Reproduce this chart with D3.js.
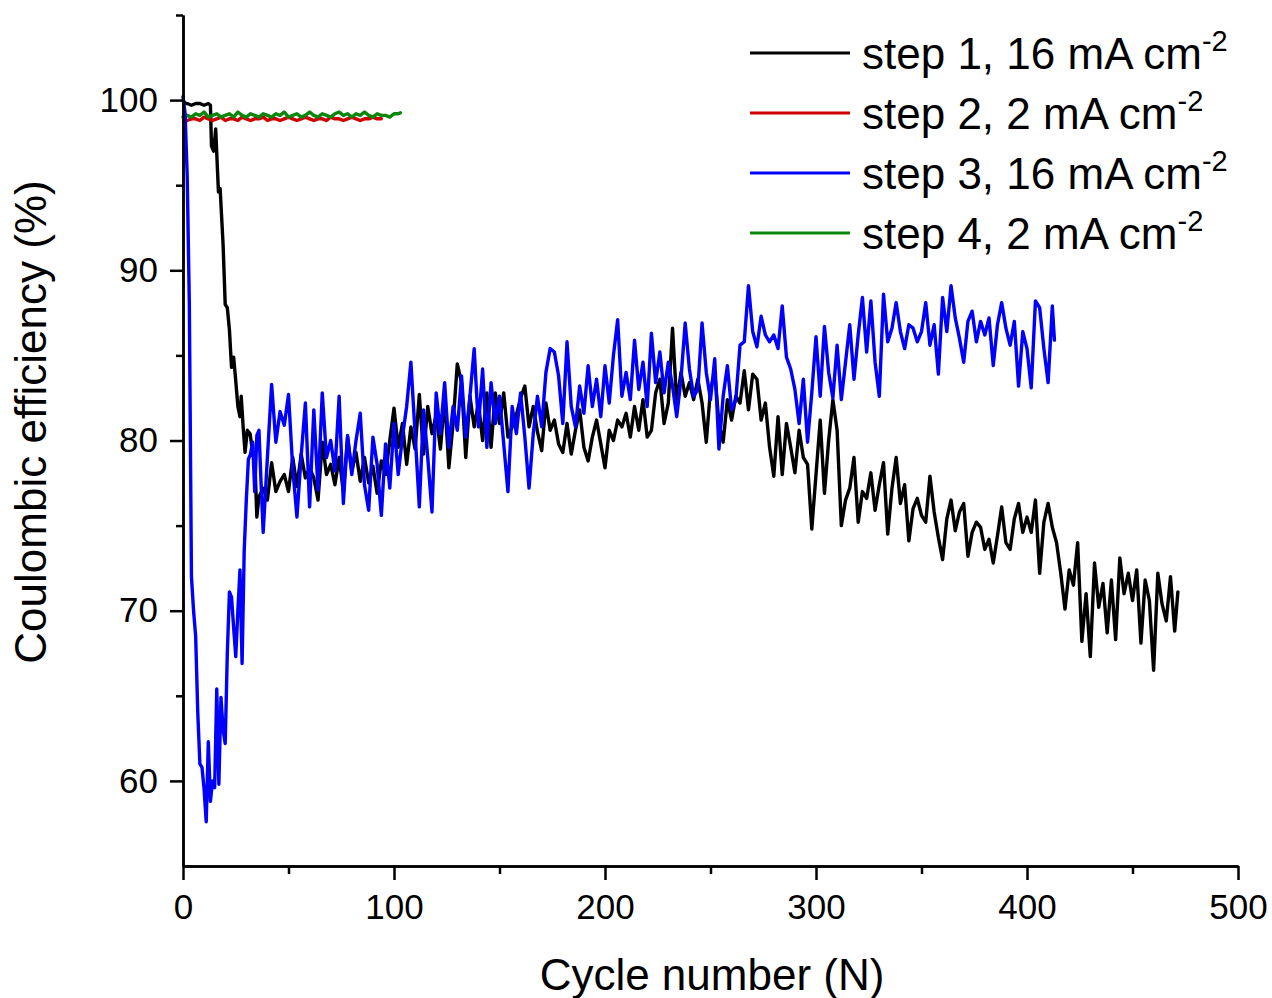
<!DOCTYPE html>
<html>
<head>
<meta charset="utf-8">
<script src="https://cdn.jsdelivr.net/npm/d3@7"></script>
<style>
  html, body { margin: 0; padding: 0; background: #ffffff; }
  svg { display: block; }
  text { font-family: "Liberation Sans", Arial, sans-serif; fill: #000; }
</style>
</head>
<body>
<svg id="chart" width="1272" height="998"></svg>
<script>
// ---- Series: step 1 (16 mA cm-2), black ----
// first cycles, listed as [cycle, CE %]
const step1Head = [
  [0, 100.0], [1, 99.8], [2, 99.8], [4, 99.7], [6, 99.8], [8, 99.8], [10, 99.7], [12, 99.8], [13, 99.7],
  [13.5, 97.3], [14.5, 97.0], [15.5, 98.3], [16.3, 96.0], [16.8, 94.6], [17.6, 94.8], [19, 91.5],
  [20, 88.0], [21, 87.8], [22, 86.5], [23, 84.3], [24, 84.9], [25, 83.5], [26, 82.0], [27, 81.4],
  [27.6, 82.6], [28.5, 80.8], [29.4, 79.3], [30.5, 80.6], [31.8, 80.4], [33, 79.3], [34, 79.0],
  [35, 75.5], [36, 76.7]
];
// every second cycle from 38 to 470
const step1Start = 38;
const step1Values = [
  77.2, 76.5, 78.7, 77.0, 77.6, 78.0, 77.0, 79.0, 77.3, 79.2,   // 38-56
  77.8, 78.4, 77.8, 76.5, 79.9, 78.0, 78.6, 77.4, 79.0, 77.0,   // 58-76
  80.2, 78.2, 79.3, 77.6, 79.0, 77.5, 78.5, 76.9, 78.8, 78.0,   // 78-96
  80.0, 81.9, 79.6, 81.0, 78.6, 80.8, 79.5, 82.7, 79.2, 82.0,   // 98-116
  80.4, 81.5, 79.5, 82.5, 78.4, 81.0, 84.5, 83.4, 79.0, 82.6,   // 118-136
  80.8, 82.2, 80.0, 82.8, 79.6, 82.8, 81.0, 82.8, 80.2, 80.8,   // 138-156
  81.5, 82.5, 83.2, 80.8, 82.0, 80.5, 79.4, 82.2, 80.6, 81.2,   // 158-176
  79.8, 79.3, 81.0, 79.2, 80.6, 81.8, 79.6, 78.8, 80.2, 81.2,   // 178-196
  79.8, 78.4, 80.6, 80.0, 81.2, 80.8, 81.6, 80.2, 82.0, 80.6,   // 198-216
  82.4, 80.2, 80.6, 82.8, 83.6, 81.0, 82.2, 86.6, 82.2, 84.0,   // 218-236
  82.6, 83.4, 82.4, 83.6, 82.2, 79.9, 83.0, 84.0, 81.0, 79.9,   // 238-256
  82.4, 81.2, 82.6, 82.2, 84.1, 81.8, 83.9, 83.6, 81.2, 82.2,   // 258-276
  79.6, 77.9, 81.4, 78.0, 81.0, 79.6, 78.1, 80.6, 79.0, 78.6,   // 278-296
  74.8, 78.0, 81.2, 76.9, 80.0, 82.4, 80.6, 75.0, 76.5, 77.2,   // 298-316
  79.0, 75.2, 77.0, 76.6, 78.1, 75.9, 77.4, 78.7, 74.5, 77.2,   // 318-336
  79.0, 76.3, 77.4, 74.1, 76.0, 76.6, 75.6, 75.2, 77.9, 75.8,   // 338-356
  74.3, 73.0, 75.4, 76.5, 74.7, 75.8, 76.3, 73.2, 74.6, 75.2,   // 358-376
  74.9, 73.6, 74.2, 72.8, 74.4, 76.1, 74.0, 73.6, 75.4, 76.3,   // 378-396
  74.6, 75.5, 74.6, 76.5, 72.2, 75.2, 76.3, 74.9, 74.0, 72.2,   // 398-416
  70.1, 72.4, 71.5, 74.0, 68.2, 71.0, 67.3, 72.8, 70.2, 71.6,   // 418-436
  68.7, 71.8, 68.3, 73.1, 71.0, 72.2, 70.6, 72.4, 68.1, 71.8,   // 438-456
  70.6, 66.5, 72.2, 70.4, 69.4, 72.0, 68.8                      // 458-470
];
const step1Tail = [[471.5, 71.1]];

// ---- Series: step 2 (2 mA cm-2), red — every second cycle from 2 ----
const step2Start = 2;
const step2Values = [
  98.8, 98.9, 98.9, 98.8, 99.0, 98.9, 98.8, 98.9, 99.0, 98.8, 98.9, 98.9, 98.8, 99.0, 98.9, 98.8,
  98.9, 98.9, 99.0, 98.8, 98.9, 98.9, 98.8, 98.9, 99.0, 98.9, 98.8, 98.9, 99.0, 98.9, 98.8, 98.9,
  98.9, 98.8, 99.0, 98.9, 98.9, 98.8, 98.9, 99.0, 98.9, 98.8, 98.9, 98.9, 99.0, 98.9, 98.9
];

// ---- Series: step 3 (16 mA cm-2), blue ----
const step3Head = [
  [0, 100.2], [1, 99.2], [2, 95.5], [3, 88.0], [4, 72.0], [5, 70.0], [6, 68.5], [7, 64.0], [8, 61.0],
  [9, 60.8], [10, 59.5], [11, 57.6], [12, 62.3], [13, 58.8], [14, 60.0], [15, 59.6], [16, 65.4],
  [17, 59.8], [18, 64.9], [19, 63.0], [20, 62.2], [21, 67.5], [22, 71.1], [23, 70.8], [24, 69.0],
  [25, 67.3], [26, 70.0], [27, 72.4], [28, 66.9], [29, 73.5], [30, 76.5], [31, 78.9], [32, 79.2],
  [33, 79.9], [34, 77.0], [35, 80.3], [36, 80.6], [37, 77.5], [38, 74.6]
];
// every second cycle from 40 to 412
const step3Start = 40;
const step3Values = [
  79.0, 83.3, 79.9, 81.7, 80.9, 82.7, 78.4, 75.5, 79.1, 82.2,   // 40-58
  76.1, 81.8, 77.1, 82.8, 79.0, 80.0, 78.2, 82.6, 76.3, 80.3,   // 60-78
  78.0, 80.0, 81.6, 77.4, 75.9, 80.2, 78.6, 75.6, 79.8, 77.2,   // 80-98
  81.0, 78.0, 80.2, 82.0, 84.6, 80.4, 76.1, 81.8, 79.0, 75.8,   // 100-118
  82.8, 80.4, 83.4, 79.6, 82.0, 80.6, 83.8, 80.2, 82.6, 85.4,   // 120-138
  80.8, 84.2, 79.6, 83.4, 81.0, 82.6, 79.8, 77.0, 82.0, 80.4,   // 140-158
  82.8, 80.2, 77.2, 80.4, 82.6, 80.8, 84.0, 85.4, 85.2, 83.8,   // 160-178
  81.0, 85.8, 82.0, 80.8, 83.2, 81.6, 84.4, 82.0, 83.6, 81.4,   // 180-198
  84.4, 82.2, 85.0, 87.1, 82.6, 84.0, 82.4, 85.9, 83.0, 84.6,   // 200-218
  82.0, 86.3, 83.4, 85.2, 82.8, 84.6, 83.2, 81.4, 83.6, 86.9,   // 220-238
  84.2, 82.6, 83.0, 86.9, 84.0, 82.4, 84.8, 79.5, 82.6, 84.4,   // 240-258
  81.8, 82.4, 85.6, 85.8, 89.1, 86.4, 85.5, 87.3, 86.2, 85.8,   // 260-278
  86.2, 85.4, 87.9, 84.9, 84.2, 83.0, 81.0, 83.6, 79.9, 82.8,   // 280-298
  86.1, 82.6, 86.7, 84.0, 82.5, 85.6, 82.4, 84.6, 86.8, 83.6,   // 300-318
  86.2, 88.4, 85.2, 88.2, 84.6, 82.6, 88.6, 85.8, 86.6, 88.1,   // 320-338
  86.4, 85.4, 86.8, 86.6, 85.8, 86.4, 88.1, 85.6, 86.8, 83.9,   // 340-358
  88.4, 86.4, 89.1, 87.2, 86.0, 84.6, 87.0, 87.6, 85.8, 87.0,   // 360-378
  86.2, 87.2, 84.4, 86.8, 88.1, 86.6, 85.6, 87.0, 83.2, 86.4,   // 380-398
  85.4, 83.1, 88.2, 87.8, 85.4, 83.4, 87.9                      // 400-412
];
const step3Tail = [[413, 85.9]];

// ---- Series: step 4 (2 mA cm-2), green — every second cycle from 0 ----
const step4Start = 0;
const step4Values = [
  99.0, 99.1, 99.0, 99.2, 99.1, 99.3, 99.0, 99.1, 99.2, 99.0, 99.1, 99.2, 99.0, 99.3, 99.1, 99.0,
  99.2, 99.1, 99.0, 99.2, 99.1, 99.0, 99.2, 99.1, 99.3, 99.0, 99.1, 99.2, 99.0, 99.1, 99.3, 99.1,
  99.0, 99.2, 99.1, 99.0, 99.2, 99.3, 99.1, 99.2, 99.0, 99.2, 99.1, 99.3, 99.1, 99.0, 99.2, 99.1,
  99.1, 99.0, 99.2, 99.2
];
const step4Tail = [[103, 99.25]];

// ---- Legend / axis text ----
const seriesLabels = ["step 1, 16 mA cm", "step 2, 2 mA cm", "step 3, 16 mA cm", "step 4, 2 mA cm"];
const labelExponent = "-2";
const seriesColors = ["#000000", "#d00000", "#0000ff", "#0a870a"];
const xMajorTicks = [0, 100, 200, 300, 400, 500];
const xMinorTicks = [50, 150, 250, 350, 450];
const yMajorTicks = [60, 70, 80, 90, 100];
const yMinorTicks = [65, 75, 85, 95, 105];
const xTitle = "Cycle number (N)";
const yTitle = "Coulombic efficiency (%)";

// build [cycle, value] lists from the arrays
function evenSeries(start, values) {
  return values.map((v, i) => [start + 2 * i, v]);
}
const series = [
  step1Head.concat(evenSeries(step1Start, step1Values), step1Tail),
  evenSeries(step2Start, step2Values),
  step3Head.concat(evenSeries(step3Start, step3Values), step3Tail),
  evenSeries(step4Start, step4Values).concat(step4Tail)
];

const svg = d3.select("#chart");
const x = d3.scaleLinear().domain([0, 500]).range([183, 1238]);
const y = d3.scaleLinear().domain([55, 105]).range([866, 15]);

// data lines: black, red, green, blue (blue sits on top)
const line = d3.line().x(d => x(d[0])).y(d => y(d[1]));
const drawOrder = [0, 1, 3, 2];
svg.append("g").selectAll("path")
  .data(drawOrder)
  .join("path")
  .attr("d", i => line(series[i]))
  .attr("fill", "none")
  .attr("stroke", i => seriesColors[i])
  .attr("stroke-width", 3.4)
  .attr("stroke-linejoin", "round")
  .attr("stroke-linecap", "round");

// axes
function styleAxis(g) {
  g.selectAll("path.domain").attr("stroke", "#000").attr("stroke-width", 2.5);
  g.selectAll(".tick line").attr("stroke", "#000").attr("stroke-width", 2.5);
  g.selectAll(".tick text")
    .attr("font-family", "'Liberation Sans', Arial, sans-serif")
    .attr("font-size", 35)
    .attr("fill", "#000");
}

svg.append("g")
  .attr("transform", "translate(0,866)")
  .call(d3.axisBottom(x).tickValues(xMinorTicks).tickSize(8).tickSizeOuter(0).tickFormat(""))
  .call(styleAxis);
svg.append("g")
  .attr("transform", "translate(0,866)")
  .call(d3.axisBottom(x).tickValues(xMajorTicks).tickSize(14).tickSizeOuter(0).tickPadding(14).tickFormat(d3.format("d")))
  .call(styleAxis);

svg.append("g")
  .attr("transform", "translate(183,0)")
  .call(d3.axisLeft(y).tickValues(yMinorTicks).tickSize(7).tickSizeOuter(0).tickFormat(""))
  .call(styleAxis);
svg.append("g")
  .attr("transform", "translate(183,0)")
  .call(d3.axisLeft(y).tickValues(yMajorTicks).tickSize(13).tickSizeOuter(0).tickPadding(12).tickFormat(d3.format("d")))
  .call(styleAxis);

// axis titles
svg.append("text")
  .attr("x", 712).attr("y", 990)
  .attr("text-anchor", "middle")
  .attr("font-size", 44)
  .text(xTitle);
svg.append("text")
  .attr("transform", "translate(46,422) rotate(-90)")
  .attr("text-anchor", "middle")
  .attr("font-size", 44)
  .text(yTitle);

// legend
const legend = svg.append("g");
const rows = legend.selectAll("g")
  .data(seriesLabels)
  .join("g")
  .attr("transform", (d, i) => `translate(0,${53 + i * 60})`);
rows.append("line")
  .attr("x1", 750).attr("x2", 850)
  .attr("y1", 0).attr("y2", 0)
  .attr("stroke", (d, i) => seriesColors[i])
  .attr("stroke-width", 3);
const labels = rows.append("text")
  .attr("x", 862).attr("y", 16)
  .attr("font-size", 44);
labels.append("tspan").text(d => d);
labels.append("tspan")
  .attr("font-size", 29)
  .attr("dy", -18)
  .text(labelExponent);
</script>
</body>
</html>
